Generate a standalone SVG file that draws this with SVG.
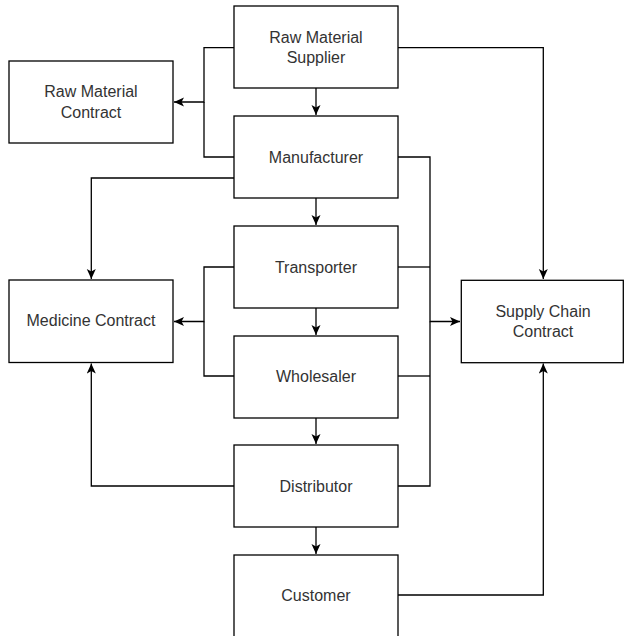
<svg xmlns="http://www.w3.org/2000/svg" width="624" height="636" viewBox="0 0 624 636">
<defs>
<marker id="arr" markerUnits="userSpaceOnUse" markerWidth="12" markerHeight="10" refX="10" refY="4.5" orient="auto">
<path d="M0,0 L10,4.5 L0,9 L2.5,4.5 Z" fill="#000"/>
</marker>
<style>
.box{fill:#fff;stroke:#000;stroke-width:1.3}
.lbl{font-family:"Liberation Sans",Arial,sans-serif;font-size:16px;fill:#333;text-anchor:middle;dominant-baseline:central}
.c{fill:none;stroke:#000;stroke-width:1.3}
.a{marker-end:url(#arr)}
</style>
</defs>
<rect width="624" height="636" fill="#fff"/>
<g id="connectors">
<path class="c a" d="M316,88 V115"/>
<path class="c a" d="M316,198 V225"/>
<path class="c a" d="M316,308 V335"/>
<path class="c a" d="M316,418 V444"/>
<path class="c a" d="M316,527 V554"/>
<path class="c a" d="M234,47.7 H204 V102 H174"/>
<path class="c" d="M234,157 H204 V102"/>
<path class="c a" d="M234,178 H91.3 V279"/>
<path class="c a" d="M234,267 H204 V321.5 H174"/>
<path class="c" d="M234,376 H204 V321.5"/>
<path class="c a" d="M234,486 H91.3 V363.5"/>
<path class="c a" d="M398,47.7 H543.3 V279"/>
<path class="c a" d="M398,157 H430 V321.5 H460"/>
<path class="c" d="M398,267 H430"/>
<path class="c" d="M398,376 H430"/>
<path class="c" d="M398,486 H430 V321.5"/>
<path class="c a" d="M398,595 H543.3 V363.5"/>
</g>
<g id="raw-material-supplier">
<rect class="box" x="234" y="6" width="164" height="82"/>
<text class="lbl" x="316" y="37">Raw Material</text>
<text class="lbl" x="316" y="57.5">Supplier</text>
</g>
<g id="raw-material-contract">
<rect class="box" x="9" y="61" width="164" height="82"/>
<text class="lbl" x="91" y="91.7">Raw Material</text>
<text class="lbl" x="91" y="112">Contract</text>
</g>
<g id="manufacturer">
<rect class="box" x="234" y="116" width="164" height="82"/>
<text class="lbl" x="316" y="157">Manufacturer</text>
</g>
<g id="transporter">
<rect class="box" x="234" y="226" width="164" height="82"/>
<text class="lbl" x="316" y="267">Transporter</text>
</g>
<g id="medicine-contract">
<rect class="box" x="9" y="280" width="164" height="82.5"/>
<text class="lbl" x="91" y="320.5">Medicine Contract</text>
</g>
<g id="supply-chain-contract">
<rect class="box" x="461.3" y="280.3" width="162" height="82.4"/>
<text class="lbl" x="543" y="311">Supply Chain</text>
<text class="lbl" x="543" y="331.5">Contract</text>
</g>
<g id="wholesaler">
<rect class="box" x="234" y="336" width="164" height="82"/>
<text class="lbl" x="316" y="376">Wholesaler</text>
</g>
<g id="distributor">
<rect class="box" x="234" y="445" width="164" height="82"/>
<text class="lbl" x="316" y="486">Distributor</text>
</g>
<g id="customer">
<rect class="box" x="234" y="555" width="164" height="82"/>
<text class="lbl" x="316" y="595.5">Customer</text>
</g>
</svg>
